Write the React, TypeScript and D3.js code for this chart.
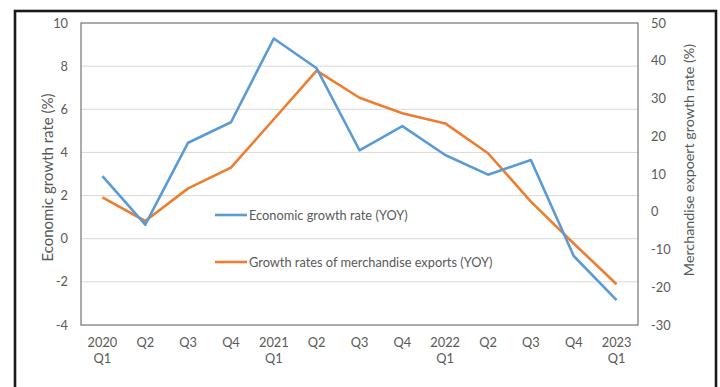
import React from "react";
import * as d3 from "d3";

const categories = ["2020\nQ1", "Q2", "Q3", "Q4", "2021\nQ1", "Q2", "Q3", "Q4", "2022\nQ1", "Q2", "Q3", "Q4", "2023\nQ1"];
const gdpGrowth = [2.9, 0.65, 4.45, 5.4, 9.28, 7.9, 4.1, 5.22, 3.88, 2.97, 3.65, -0.8, -2.85];
const exportGrowth = [3.8, -2.45, 6.2, 11.7, 24.5, 37.4, 30.2, 26.1, 23.4, 15.5, 2.7, -8.4, -19.2];
const leftTicks = [-4, -2, 0, 2, 4, 6, 8, 10];
const rightTicks = [-30, -20, -10, 0, 10, 20, 30, 40, 50];
const seriesNames = ["Economic growth rate (YOY)", "Growth rates of merchandise exports (YOY)"];

const W = 720, H = 387;
const plot = { l: 81, t: 23, r: 638, b: 325 };
const FONT = "Lato, 'Open Sans', sans-serif";
const TXT = "#595959";
const BLUE = "#5B9BD5";
const ORANGE = "#ED7D31";

export default function App() {
  const x = d3.scaleBand<number>().domain(d3.range(categories.length)).range([plot.l, plot.r]);
  const xc = (i: number) => (x(i) as number) + x.bandwidth() / 2;
  const yL = d3.scaleLinear().domain([-4, 10]).range([plot.b, plot.t]);
  const yR = d3.scaleLinear().domain([-30, 50]).range([plot.b, plot.t]);
  const lineL = d3.line<number>().x((_, i) => xc(i)).y((d) => yL(d));
  const lineR = d3.line<number>().x((_, i) => xc(i)).y((d) => yR(d));

  return (
    <svg width={W} height={H} style={{ position: "absolute", left: 0, top: 0, background: "#fff" }} fontFamily={FONT}>
      <rect x={0} y={0} width={W} height={H} fill="#fff" />
      <rect x={15} y={11} width={701} height={420} fill="none" stroke="#1a1a1a" strokeWidth={2.6} />
      {leftTicks.filter((t) => t > -4 && t < 10).map((t) => (
        <line key={t} x1={plot.l} x2={plot.r} y1={yL(t)} y2={yL(t)} stroke="#d9d9d9" strokeWidth={1} />
      ))}
      <rect x={plot.l} y={plot.t} width={plot.r - plot.l} height={plot.b - plot.t} fill="none" stroke="#595959" strokeWidth={1} />
      {leftTicks.map((t) => (
        <text key={t} x={68} y={yL(t) + 4.5} textAnchor="end" fontSize={12.8} fill={TXT}>{t}</text>
      ))}
      {rightTicks.map((t) => (
        <text key={t} x={651} y={yR(t) + 4.5} textAnchor="start" fontSize={12.8} fill={TXT}>{t}</text>
      ))}
      {categories.map((c, i) => (
        <text key={i} x={xc(i)} y={347} textAnchor="middle" fontSize={12.8} fill={TXT}>
          {c.split("\n").map((s, j) => (
            <tspan key={j} x={xc(i)} dy={j === 0 ? 0 : 15.5}>{s}</tspan>
          ))}
        </text>
      ))}
      <text transform={`translate(53,177.5) rotate(-90)`} textAnchor="middle" fontSize={15} fill={TXT}>Economic growth rate (%)</text>
      <text transform={`translate(694,160) rotate(-90)`} textAnchor="middle" fontSize={14.3} fill={TXT}>Merchandise expoert growth rate (%)</text>
      <path d={lineR(exportGrowth) as string} fill="none" stroke={ORANGE} strokeWidth={2.6} strokeLinejoin="round" />
      <path d={lineL(gdpGrowth) as string} fill="none" stroke={BLUE} strokeWidth={2.6} strokeLinejoin="round" />
      <line x1={215} x2={247} y1={215} y2={215} stroke={BLUE} strokeWidth={2.6} />
      <text x={249} y={219.5} fontSize={12.8} fill={TXT}>{seriesNames[0]}</text>
      <line x1={215} x2={247} y1={262} y2={262} stroke={ORANGE} strokeWidth={2.6} />
      <text x={249} y={266.5} fontSize={12.8} fill={TXT}>{seriesNames[1]}</text>
    </svg>
  );
}
